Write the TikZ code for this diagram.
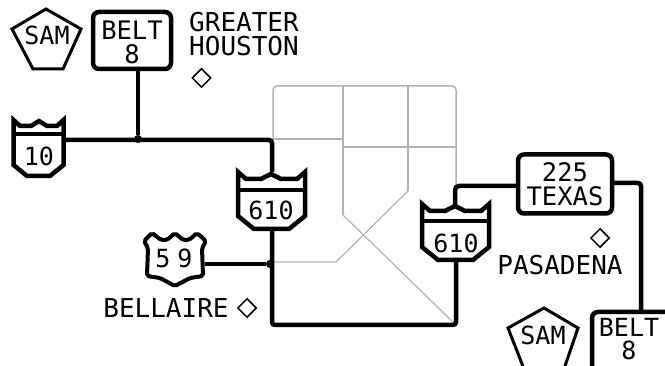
\documentclass[tikz,border=0pt]{standalone}
\usepackage{fontspec}
\setmainfont{DejaVu Sans Mono}
\usetikzlibrary{shapes.geometric}
\tikzset{
    road/.style={draw=black,line width=4.5pt},
    shield/.style={draw=black,line width=4.5pt},
    minor/.style={draw=black!30,line width=1.5pt},
    sign/.style={draw=black,line width=4.5pt,rounded corners=6pt,align=center,inner sep=0pt,font=\fontsize{25.5}{24}\selectfont},
    lab/.style={align=left,font=\fontsize{26}{23.5}\selectfont,inner sep=0pt},
    numb/.style={font=\fontsize{25}{25}\selectfont,inner sep=0pt},
    spot/.style={diamond,draw=black,line width=1.5pt,minimum size=19pt,inner sep=0pt},
    hole/.style={inner sep=0pt,minimum size=0pt},
    knot/.style={circle,fill=black,inner sep=0pt,minimum size=8pt},
}
\begin{document}
\begin{tikzpicture}[x=1pt,y=-1pt]
    \useasboundingbox (0,0) rectangle (665,366);
    \clip (0,0) rectangle (665,366);

    %%%%%%%%%% Strade minori %%%%%%%%%%
    \draw[minor,rounded corners=4pt] (273,139) -- (273,86) -- (456,86) -- (456,205);
    \draw[minor] (273,139) -- (343,139);
    \draw[minor] (343,147) -- (456,147);
    \draw[minor] (343,86) -- (343,215);
    \draw[minor] (408,86) -- (408,191);
    \draw[minor,line width=1.2pt] (343,215) -- (456,325);
    \draw[minor,line width=1.2pt] (408,191) -- (336,262) -- (272,262);

    %%%%%%%%%% Scudi %%%%%%%%%%
    \draw[shield] (13.5,120) -- (13.5,165) -- (27,176) -- (50,176) -- (63.5,165) -- (63.5,120) -- (57,126) -- (47,126) -- (39,121) -- (31,126) -- (20,126) -- cycle;
    \draw[shield,line width=4pt] (13.5,134) -- (63.5,134);
    \node[numb] (ten) at (39,156) {10};

    \draw[shield] (238,172) -- (238,216) -- (254,229) -- (289,229) -- (305,216) -- (305,172) -- (297,179) -- (281,179) -- (271,174) -- (261,179) -- (246,179) -- cycle;
    \draw[shield,line width=4pt] (238,190) -- (305,190);
    \node[numb] (westloop) at (271,210) {610};

    \draw[shield] (422,204) -- (422,247) -- (438,260) -- (473,260) -- (489,247) -- (489,204) -- (481,211) -- (465,211) -- (455,206) -- (445,211) -- (430,211) -- cycle;
    \draw[shield,line width=4pt] (422,221) -- (489,221);
    \node[numb] (eastloop) at (456,243) {610};

    \draw[shield,line width=4pt,rounded corners=2pt] (144,241) -- (152,233) -- (161,240) -- (167,240) -- (175,233) -- (183,240) -- (189,240) -- (197,233) -- (206,241) -- (202,248) -- (203,276) -- (190,278) -- (175,286) -- (160,278) -- (147,276) -- (148,248) -- cycle;
    \node[numb] (fiftynine) at (174,258) {5\hspace{7pt}9};

    %%%%%%%%%% Cartelli %%%%%%%%%%
    \node[sign,minimum width=78pt,minimum height=57pt] (beltnw) at (132,40.5) {\rule{0pt}{22pt}BELT\\8};
    \node[sign,minimum width=94pt,minimum height=59pt] (texas) at (565,184) {225\\TEXAS};
    \draw[shield,rounded corners=6pt] (592,372) -- (592,312) -- (672,312) -- (672,372);
    \node[lab,align=center,font=\fontsize{25}{23}\selectfont] (beltse) at (629,339) {BELT\\8};

    \draw[shield,line width=3pt] (46,9) -- (81,29) -- (63,69) -- (33,69) -- (12,29) -- cycle;
    \node[lab,font=\fontsize{25}{25}\selectfont] (samnw) at (47,35) {SAM};
    \draw[shield,line width=3pt] (544,308) -- (578,328) -- (564,369) -- (524,369) -- (508,328) -- cycle;
    \node[lab,font=\fontsize{25}{25}\selectfont] (samse) at (543,335) {SAM};

    %%%%%%%%%% Etichette %%%%%%%%%%
    \node[lab,anchor=west] (houston) at (189,34) {GREATER\\HOUSTON};
    \node[spot] (spothouston) at (201.5,78) {};
    \node[lab] (bellaire) at (166,308) {BELLAIRE};
    \node[spot] (spotbellaire) at (247,308) {};
    \node[lab] (pasadena) at (560,265) {PASADENA};
    \node[spot] (spotpasadena) at (600,238) {};

    %%%%%%%%%% Strade %%%%%%%%%%
    \node[hole] (tenend) at (64,140) {};
    \node[knot] (join) at (138,139) {};
    \node[hole] (topwest) at (272,172) {};
    \node[hole] (botwest) at (272,231) {};
    \node[knot] (midwest) at (270,264) {};
    \node[hole] (fifty) at (205,264) {};
    \node[hole] (boteast) at (456,262) {};
    \node[hole] (topeast) at (455,206) {};
    \node[hole] (texasleft) at (517,186) {};
    \node[hole] (texasright) at (613,183) {};
    \node[hole] (beltseup) at (641,312) {};

    \draw[road] (beltnw.south -| join) -- (join);
    \draw[road,rounded corners=3pt] (tenend) -- (tenend -| topwest) -- (topwest);
    \draw[road,rounded corners=3pt] (botwest) -- (272,325) -- (456,325) -- (boteast);
    \draw[road] (fifty) -- (midwest);
    \draw[road,rounded corners=4pt] (topeast) -- (topeast |- texasleft) -- (texasleft);
    \draw[road,rounded corners=3pt] (texasright) -- (texasright -| beltseup) -- (beltseup);
\end{tikzpicture}
\end{document}
